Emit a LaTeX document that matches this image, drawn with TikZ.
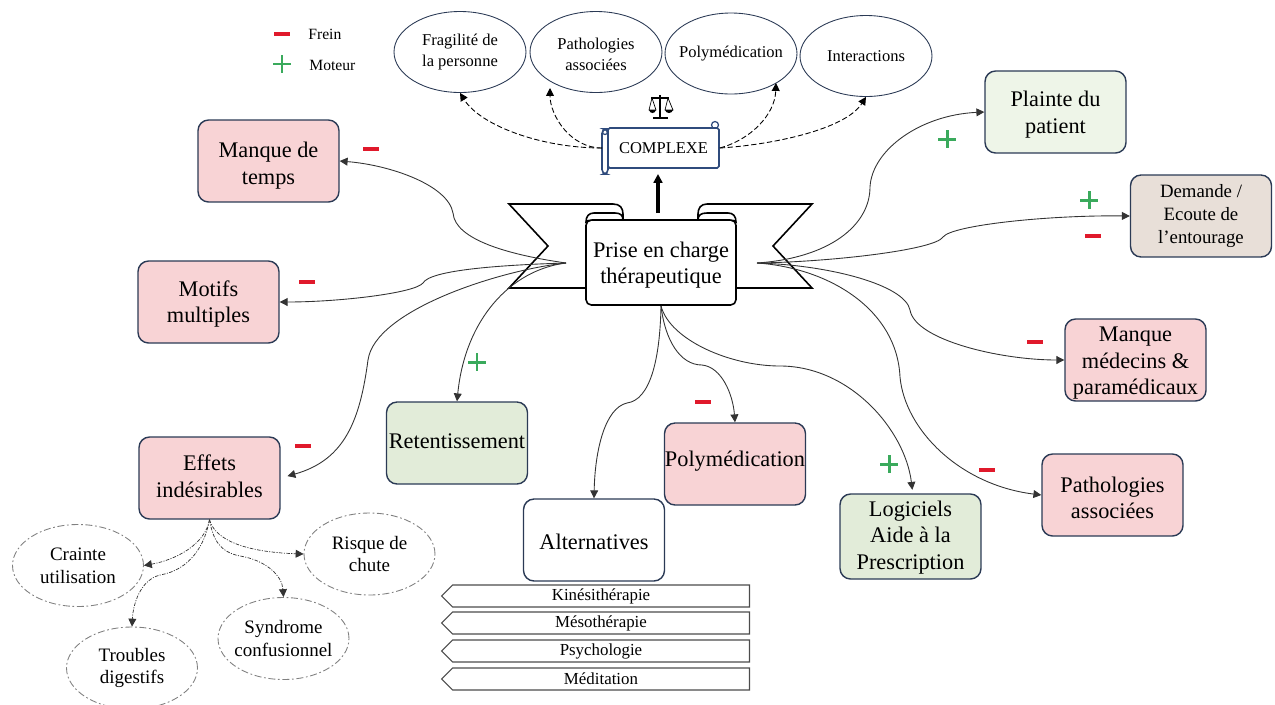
\documentclass[tikz,border=0pt]{standalone}
\usepackage{fontspec}
\setmainfont{Liberation Serif}
\usetikzlibrary{arrows.meta,shapes.geometric,shapes.symbols}
\definecolor{boxline}{HTML}{2B3A55}
\definecolor{pinkfill}{HTML}{F8D3D5}
\definecolor{greenfill}{HTML}{E2ECD9}
\definecolor{palegreen}{HTML}{EEF5E8}
\definecolor{beigefill}{HTML}{E8DFD8}
\definecolor{minusred}{HTML}{E0192B}
\definecolor{plusgreen}{HTML}{3AAA5C}
\definecolor{scrollblue}{HTML}{2F4B7C}
\newcommand{\toppad}[1]{\rule{0pt}{#1}}
\newcommand{\botpad}[1]{\rule[-#1]{0pt}{#1}}
\tikzset{
  bigbox/.style={draw=boxline,line width=0.8pt,rounded corners=6pt,minimum width=2.82cm,minimum height=1.64cm,
    inner sep=0pt,align=center,font=\fontsize{12.7}{15}\selectfont},
  topell/.style={ellipse,draw=boxline,line width=0.5pt,minimum width=2.64cm,minimum height=1.62cm,inner sep=-3pt,
    align=center,font=\fontsize{9.4}{12}\selectfont},
  lowell/.style={ellipse,draw=gray,line width=0.5pt,dash pattern=on 4pt off 1.5pt on 1pt off 1.5pt,
    minimum width=2.62cm,minimum height=1.64cm,inner sep=-2pt,align=center,font=\fontsize{10.8}{13}\selectfont},
  tagbox/.style={signal,signal to=west,signal from=nowhere,signal pointer angle=90,draw=black!70,line width=0.6pt,
    minimum width=6.16cm,minimum height=0.44cm,inner sep=0pt,font=\fontsize{9.6}{11}\selectfont},
  link/.style={black!80,line width=0.5pt,-{Triangle[length=4.5pt,width=4.5pt]}},
  dashlink/.style={black,line width=0.5pt,dash pattern=on 3pt off 1.5pt,-{Triangle[length=4.5pt,width=4.5pt]}},
  dotlink/.style={black!80,line width=0.4pt,dash pattern=on 2pt off 0.8pt on 0.6pt off 0.8pt,-{Triangle[length=4.5pt,width=4.5pt]}},
  ribbon/.style={draw=black,line width=0.9pt,fill=white},
  minusmark/.style={fill=minusred,minimum width=0.32cm,minimum height=0.09cm,inner sep=0pt},
  plusmark/.pic={\draw[plusgreen,line width=1.7pt] (-9,0) -- (9,0) (0,-9) -- (0,9);}
}
\begin{document}
\begin{tikzpicture}[x=0.02cm,y=-0.02cm]
\useasboundingbox (0,0) rectangle (1275,704);

% Banner behind the main box
\draw[ribbon] (509,204) -- (613,204) .. controls (620,204) and (623,208) .. (623,214) -- (623,240) -- (586,240) -- (586,288)
  -- (509,288) -- (548,246) -- cycle;
\draw[ribbon] (812,204) -- (707,204) .. controls (701,204) and (698,208) .. (698,214) -- (698,240) -- (736,240) -- (736,288)
  -- (812,288) -- (773,246) -- cycle;

% Main box
\node[draw=black,line width=0.9pt,fill=white,rounded corners=3pt,minimum width=3cm,minimum height=1.7cm,inner sep=0pt,
  align=center,font=\fontsize{12.7}{15}\selectfont] (prise) at (661,262.5) {\toppad{12pt}Prise en charge\\thérapeutique};
\draw[ribbon] (586,222) .. controls (586,216) and (589,213) .. (594,213) -- (615,213) .. controls (620,213) and (623,215) .. (623,220)
  -- (592,220) .. controls (589,220) and (587,221) .. (586,222) -- cycle;
\draw[ribbon] (736,222) .. controls (736,216) and (733,213) .. (728,213) -- (707,213) .. controls (701,213) and (698,215) .. (698,220)
  -- (730,220) .. controls (733,220) and (735,221) .. (736,222) -- cycle;
\coordinate (hubleft) at (566,263);
\coordinate (hubright) at (757,263);
\coordinate (hubdown) at (661,306);
\coordinate (arrowbase) at (658,213);
\coordinate (arrowtip) at (658,174);

% Complexe scroll
\draw[scrollblue,line width=0.7pt,fill=white] (715,125) circle (0.07cm);
\node[draw=scrollblue,line width=0.9pt,fill=white,rounded corners=1pt,minimum width=2.22cm,minimum height=0.8cm,inner sep=0pt,
  font=\fontsize{9.4}{11}\selectfont] (complexe) at (663.5,148) {COMPLEXE\hspace{3pt}};
\draw[scrollblue,line width=0.9pt,fill=white,rounded corners=2.5pt] (602,129) rectangle (608,174);
\draw[scrollblue,line width=0.7pt] (605,132) circle (0.05cm);
\coordinate (cleft) at (602,148);
\draw[-{Triangle[length=5pt,width=5pt]},line width=2pt] (arrowbase) -- (arrowtip);

% Scales
\draw[line width=0.7pt] (660,95) -- (660,118) (651,98) -- (669,98);
\draw[line width=1.2pt] (653,118) -- (668,118);
\draw[line width=0.4pt] (649,110) -- (652,98) -- (656,110) -- cycle (665,110) -- (668,98) -- (673,110) -- cycle;
\fill (649,110) .. controls (650,114) and (655,114) .. (656,110) -- cycle;
\fill (665,110) .. controls (666,114) and (672,114) .. (673,110) -- cycle;

% Top ellipses
\node[topell] (fragilite) at (460,52) {Fragilité de\\la personne};
\node[topell] (assoc) at (596,52) {\toppad{9.5pt}Pathologies\\associées};
\node[topell] (polytop) at (731,53.5) {Polymédication};
\node[topell] (interact) at (866,56) {Interactions};
\coordinate (assoctip) at (550,88);
\coordinate (polytip) at (776,83);
\draw[dashlink] (cleft) .. controls (540,148) and (480,125) .. (fragilite.south);
\draw[dashlink] (cleft) .. controls (570,148) and (550,115) .. (assoctip);
\draw[dashlink] (complexe.east) .. controls (750,140) and (775,115) .. (polytip);
\draw[dashlink] (complexe.east) .. controls (770,145) and (845,130) .. (interact.south);

% Boxes
\node[bigbox,fill=pinkfill] (temps) at (268.5,161) {\toppad{14.2pt}Manque de\\temps};
\node[bigbox,fill=pinkfill] (motifs) at (208.5,302) {\toppad{11pt}Motifs\\multiples};
\node[bigbox,fill=pinkfill] (effets) at (209.5,478) {Effets\\indésirables\botpad{2.3pt}};
\node[bigbox,fill=greenfill] (retent) at (457,443) {Retentissement\botpad{2.3pt}};
\node[bigbox,fill=pinkfill] (polybox) at (735,464) {Polymédication\botpad{6.3pt}};
\node[bigbox,fill=white] (altern) at (594,540) {\toppad{11pt}Alternatives};
\node[bigbox,fill=greenfill,minimum height=1.7cm] (logiciels) at (910.5,536.5) {\toppad{10pt}Logiciels\\Aide à la\\Prescription};
\node[bigbox,fill=pinkfill] (assocbox) at (1112.5,495) {\toppad{12pt}Pathologies\\associées};
\node[bigbox,fill=pinkfill] (medecins) at (1135.5,360) {\toppad{12pt}Manque\\médecins \&\\paramédicaux};
\node[bigbox,fill=beigefill,font=\fontsize{10.7}{13.3}\selectfont] (demande) at (1201,216) {Demande /\\Ecoute de\\l’entourage};
\node[bigbox,fill=palegreen] (plainte) at (1055.5,112) {\toppad{12pt}Plainte du\\patient};

% Links from the banner
\draw[link] (hubleft) .. controls (510,255) and (455,240) .. (453,213) .. controls (448,185) and (390,165) .. (temps.east);
\draw[link] (hubleft) .. controls (500,265) and (430,270) .. (423,283) .. controls (415,293) and (340,302) .. (motifs.east);
\draw[link,shorten >=4pt] (hubleft) .. controls (500,270) and (375,310) .. (368,360) .. controls (360,420) and (345,460) .. (effets.east);
\draw[link] (hubleft) .. controls (510,270) and (465,320) .. (retent.north);
\draw[link] (hubright) .. controls (830,258) and (870,225) .. (870,187) .. controls (872,150) and (920,115) .. (plainte.west);
\draw[link] (hubright) .. controls (830,262) and (935,250) .. (943,237) .. controls (952,225) and (1050,215) .. (demande.west);
\draw[link] (hubright) .. controls (830,265) and (905,285) .. (910,310) .. controls (915,340) and (1000,360) .. (medecins.west);
\draw[link] (hubright) .. controls (830,268) and (897,310) .. (900,377) .. controls (905,430) and (960,485) .. (assocbox.west);
\draw[link] (hubdown) .. controls (660,360) and (650,400) .. (627,403) .. controls (605,408) and (595,450) .. (altern.north);
\draw[link] (hubdown) .. controls (665,340) and (680,365) .. (702,365) .. controls (722,367) and (733,395) .. (polybox.north);
\draw[link,shorten >=2pt] (hubdown) .. controls (670,340) and (730,366) .. (780,366) .. controls (850,366) and (905,430) .. (logiciels.87);

% Lower ellipses
\node[lowell] (crainte) at (78,565.5) {Crainte\\utilisation};
\node[lowell] (troubles) at (132,668) {Troubles\\digestifs};
\node[lowell] (syndrome) at (283.5,638.5) {Syndrome\\confusionnel};
\node[lowell] (risque) at (369.5,554) {Risque de\\chute};
\draw[dotlink] (effets.south) .. controls (205,545) and (175,560) .. (crainte.east);
\draw[dotlink] (effets.south) .. controls (205,545) and (190,570) .. (160,575) .. controls (140,580) and (133,605) .. (troubles.north);
\draw[dotlink] (effets.south) .. controls (213,540) and (220,552) .. (240,556) .. controls (265,560) and (282,575) .. (syndrome.north);
\draw[dotlink] (effets.south) .. controls (215,540) and (245,552) .. (risque.west);

% Tags under Alternatives
\foreach \y/\tagname/\tagtext in {596/kine/Kinésithérapie,623/meso/Mésothérapie,651/psycho/Psychologie,679/medit/Méditation} {
  \node[tagbox] (\tagname) at (601,\y) {\tagtext\hspace{4pt}};
}

% Frein and moteur marks
\foreach \x/\y in {282/34,371/149,307/282,303/446,703/402,1035/342,987/470,1093/236} {
  \node[minusmark] (minus\x) at (\x,\y) {};
}
\foreach \x/\y in {282/64,477/362,947/139,1089/200,889/464} {
  \pic at (\x,\y) {plusmark};
}

% Legend
\node[anchor=west,inner sep=0pt,font=\fontsize{8.9}{11}\selectfont] (frein) at (308,34) {Frein};
\node[anchor=west,inner sep=0pt,font=\fontsize{8.9}{11}\selectfont] (moteur) at (309,65) {Moteur};

\end{tikzpicture}
\end{document}
